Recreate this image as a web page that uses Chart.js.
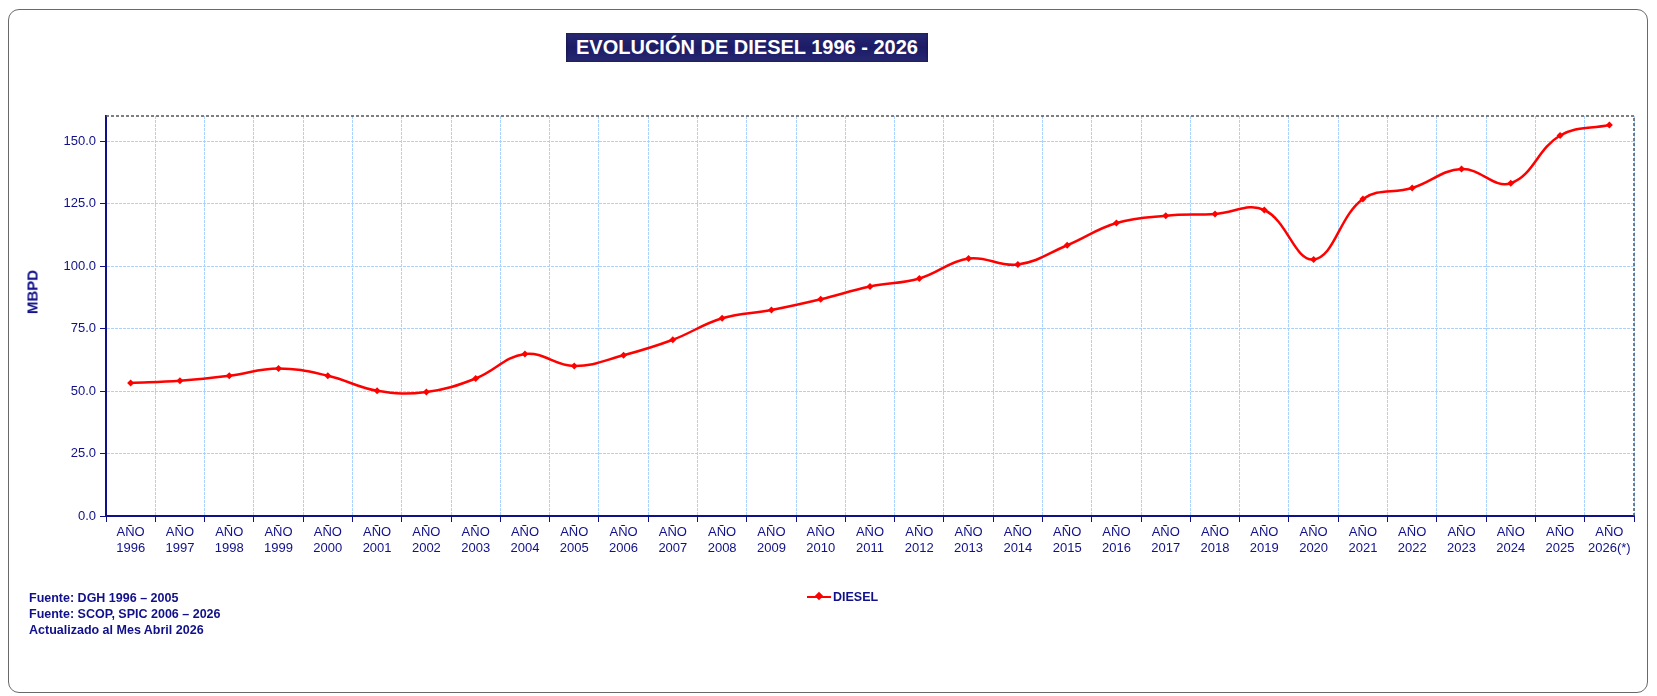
<!DOCTYPE html>
<html>
<head>
<meta charset="utf-8">
<script src="https://cdn.jsdelivr.net/npm/chart.js@4/dist/chart.umd.min.js"></script>
<style>
  html, body { margin: 0; padding: 0; background: #fff; }
  body { width: 1657px; height: 696px; position: relative; overflow: hidden; font-family: Arial, "Liberation Sans", sans-serif; }
  #frame { position: absolute; left: 8px; top: 9px; width: 1640px; height: 684px; border: 1.5px solid #6a6a6a; border-radius: 11px; box-sizing: border-box; }
  #title { position: absolute; left: 566px; top: 33px; width: 362px; height: 29px; line-height: 29px; text-align: center;
           color: #fff; font-weight: bold; font-size: 20px;
           background: linear-gradient(to bottom, #2a2a72 0%, #22226e 20%, #1c1c66 50%, #22226e 80%, #2a2a72 100%);
           box-shadow: inset 0 0 3px rgba(0,0,0,0.5); }
  #ylab { position: absolute; left: 32px; top: 292px; transform: translate(-50%, -50%) rotate(-90deg); color: #10108a; font-weight: bold; font-size: 15px; white-space: nowrap; }
  #notes { position: absolute; left: 29px; top: 590px; color: #10108a; font-weight: bold; font-size: 12.5px; line-height: 16px; }
  #legend { position: absolute; left: 807px; top: 589px; height: 16px; display: flex; align-items: center; color: #10108a; font-weight: bold; font-size: 12.5px; }
  #legend .ln { position: relative; width: 24px; height: 2.5px; background: #ff0000; margin-right: 2px; }
  #legend .mk { position: absolute; left: 9px; top: -2.5px; width: 6px; height: 6px; background: #ff0000; transform: rotate(45deg); }
  canvas { position: absolute; left: 0; top: 0; }
</style>
</head>
<body>
<div id="frame"></div>
<canvas id="c" width="1657" height="696"></canvas>
<div id="title">EVOLUCIÓN DE DIESEL 1996 - 2026</div>
<div id="ylab">MBPD</div>
<div id="notes">Fuente: DGH 1996 – 2005<br>Fuente: SCOP, SPIC 2006 – 2026<br>Actualizado al Mes Abril 2026</div>
<div id="legend"><div class="ln"><div class="mk"></div></div>DIESEL</div>
<script>
const years = ["1996","1997","1998","1999","2000","2001","2002","2003","2004","2005",
               "2006","2007","2008","2009","2010","2011","2012","2013","2014","2015",
               "2016","2017","2018","2019","2020","2021","2022","2023","2024","2025","2026(*)"];
const categories = years.map(y => ["AÑO", y]);
const diesel = [53.2, 54.1, 56.1, 59.0, 56.1, 50.1, 49.6, 55.0, 64.8, 60.0,
                64.3, 70.5, 79.1, 82.4, 86.7, 91.8, 95.0, 103.0, 100.6, 108.3,
                117.2, 120.1, 120.8, 122.4, 102.6, 126.8, 131.2, 138.8, 133.1, 152.2, 156.4];
const yTicks = { min: 0, max: 160, step: 25 };

const NAVY = '#10108a';
const GRID = '#a9d2ff';

const frameBorder = {
  id: 'frameBorder',
  afterDraw(chart) {
    const { ctx, chartArea: a } = chart;
    ctx.save();
    ctx.strokeStyle = '#555';
    ctx.lineWidth = 1.5;
    ctx.setLineDash([3, 2]);
    ctx.beginPath();
    ctx.moveTo(a.left, a.top);
    ctx.lineTo(a.right, a.top);
    ctx.lineTo(a.right, a.bottom);
    ctx.stroke();
    ctx.restore();
  }
};

new Chart(document.getElementById('c'), {
  type: 'line',
  data: {
    labels: categories,
    datasets: [{
      label: 'DIESEL',
      data: diesel,
      borderColor: '#ff0000',
      backgroundColor: '#ff0000',
      borderWidth: 2.5,
      tension: 0.4,
      pointStyle: 'rectRot',
      pointRadius: 3.5,
      pointBorderWidth: 0,
      pointBackgroundColor: '#ff0000',
      fill: false
    }]
  },
  options: {
    responsive: false,
    animation: false,
    layout: { padding: { left: 30, right: 23, top: 116, bottom: 130 } },
    plugins: { legend: { display: false }, tooltip: { enabled: false } },
    scales: {
      x: {
        offset: true,
        grid: { offset: true, color: GRID, lineWidth: 1, tickLength: 6, tickColor: NAVY, drawTicks: true },
        border: { color: NAVY, width: 2, dash: [3, 1] },
        ticks: { color: NAVY, font: { family: 'Arial, "Liberation Sans"', size: 13 }, maxRotation: 0, autoSkip: false, padding: 3 },
        afterFit(s) { s.height = 50; }
      },
      y: {
        min: yTicks.min, max: yTicks.max,
        grid: { color: GRID, lineWidth: 1, tickLength: 6, tickColor: NAVY },
        border: { color: NAVY, width: 2, dash: [3, 1] },
        ticks: { stepSize: yTicks.step, includeBounds: false, color: NAVY, padding: 4,
                 font: { family: 'Arial, "Liberation Sans"', size: 13 },
                 callback: v => v.toFixed(1) },
        afterFit(s) { s.width = 76; }
      }
    }
  },
  plugins: [frameBorder]
});
</script>
</body>
</html>
